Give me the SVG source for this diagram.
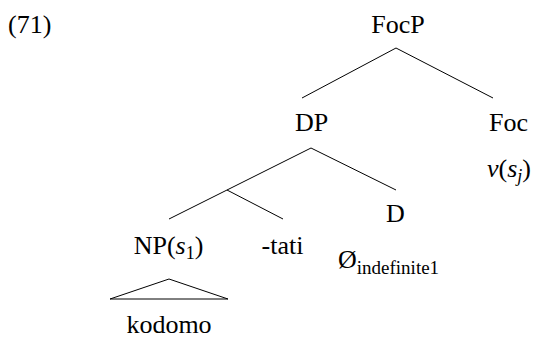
<svg xmlns="http://www.w3.org/2000/svg" width="540" height="341" viewBox="0 0 540 341">
<rect width="540" height="341" fill="#fff"/>
<g font-family="Liberation Serif" font-size="26" fill="#000">
<g id="label71"><text x="8" y="33">(71)</text></g>
<g id="FocP"><text text-anchor="middle" x="398" y="33">FocP</text></g>
<g id="DP"><text text-anchor="middle" x="311.5" y="131">DP</text></g>
<g id="Foc"><text text-anchor="middle" x="508.5" y="131">Foc</text><text text-anchor="middle" x="509" y="177"><tspan font-style="italic">v</tspan>(<tspan font-style="italic">s</tspan><tspan font-style="italic" font-size="18" dy="5">j</tspan><tspan dy="-5">)</tspan></text></g>
<g id="D"><text text-anchor="middle" x="395.5" y="222">D</text><text x="338" y="268">&#216;<tspan font-size="19" dy="6">indefinite1</tspan></text></g>
<g id="NP"><text text-anchor="middle" x="168.5" y="254">NP(<tspan font-style="italic">s</tspan><tspan font-size="18" dy="5">1</tspan><tspan dy="-5">)</tspan></text><text text-anchor="middle" x="169" y="333">kodomo</text></g>
<g id="tati"><text text-anchor="middle" x="282.5" y="254">-tati</text></g>
</g>
<g id="connectors" stroke="#000" stroke-width="1" fill="none">
<line x1="396" y1="48" x2="302" y2="98"/>
<line x1="396" y1="48" x2="493" y2="98"/>
<line x1="311" y1="148" x2="396" y2="190"/>
<line x1="311" y1="148" x2="169" y2="219"/>
<line x1="227" y1="190" x2="283" y2="219"/>
<polygon points="169,279 110,299 228,299"/>
</g>
</svg>
